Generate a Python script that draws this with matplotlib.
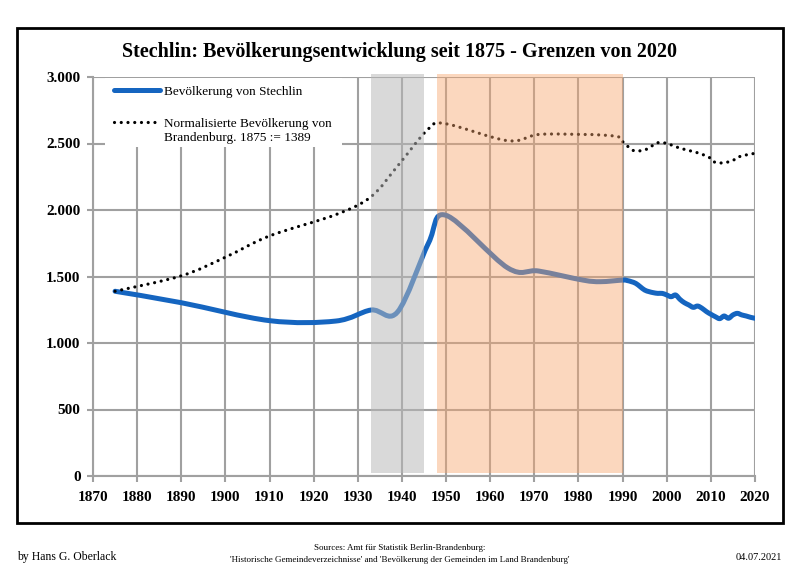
import matplotlib
matplotlib.use("Agg")
import matplotlib.pyplot as plt
from matplotlib.path import Path
from matplotlib.patches import PathPatch, Rectangle
from matplotlib.lines import Line2D

# ---------------- data ----------------
stechlin_years = [1875, 1890, 1910, 1925, 1933, 1939, 1946, 1950, 1964, 1971, 1981, 1985, 1990,
                  1991, 1992, 1993, 1994, 1995, 1996, 1997, 1998, 1999, 2000, 2001, 2002, 2003,
                  2004, 2005, 2006, 2007, 2008, 2009, 2010, 2011, 2012, 2013, 2014, 2015, 2016,
                  2017, 2018, 2019, 2020]
stechlin_pop = [1389, 1303, 1168, 1165, 1248, 1233, 1750, 1960, 1564, 1541, 1473, 1461, 1473,
                1470, 1461, 1448, 1423, 1398, 1386, 1378, 1373, 1373, 1361, 1348, 1361, 1328,
                1303, 1286, 1268, 1278, 1261, 1236, 1216, 1198, 1183, 1203, 1186, 1211, 1223,
                1211, 1203, 1193, 1186]

brandenburg_years = [1875, 1890, 1900, 1910, 1925, 1933, 1939, 1946, 1950, 1964, 1971, 1981, 1985,
                     1989, 1990, 1992, 1993, 1995, 1997, 1998, 2000, 2002, 2004, 2006, 2008, 2010,
                     2011, 2013, 2015, 2016, 2018, 2020]
brandenburg_norm = [1389, 1505, 1645, 1805, 1965, 2100, 2330, 2610, 2648, 2521, 2568, 2568, 2564,
                    2551, 2514, 2456, 2444, 2451, 2489, 2506, 2501, 2476, 2456, 2439, 2419, 2388,
                    2358, 2355, 2373, 2396, 2414, 2426]

shade_gray = (1933, 1945)
shade_orange = (1948, 1990)

x_ticks = list(range(1870, 2021, 10))
x_tick_labels = [str(v) for v in x_ticks]
y_ticks = [0, 500, 1000, 1500, 2000, 2500, 3000]
y_tick_labels = ["0", "500", "1.000", "1.500", "2.000", "2.500", "3.000"]

title = "Stechlin: Bevölkerungsentwicklung seit 1875 - Grenzen von 2020"
label_stechlin = "Bevölkerung von Stechlin"
label_brandenburg = ["Normalisierte Bevölkerung von", "Brandenburg. 1875 := 1389"]

# ---------------- helpers ----------------
def smooth_path(xs, ys):
    n = len(xs)
    verts = [(xs[0], ys[0])]
    codes = [Path.MOVETO]
    for i in range(n - 1):
        p0 = i - 1 if i > 0 else i
        p3 = i + 2 if i + 2 < n else i + 1
        c1 = (xs[i] + (xs[i + 1] - xs[p0]) / 6.0, ys[i] + (ys[i + 1] - ys[p0]) / 6.0)
        c2 = (xs[i + 1] - (xs[p3] - xs[i]) / 6.0, ys[i + 1] - (ys[p3] - ys[i]) / 6.0)
        verts += [c1, c2, (xs[i + 1], ys[i + 1])]
        codes += [Path.CURVE4, Path.CURVE4, Path.CURVE4]
    return Path(verts, codes)

plt.rcParams['font.family'] = ['Liberation Serif', 'DejaVu Serif']

W, H = 800, 566
fig = plt.figure(figsize=(8.0, 5.66), dpi=100)
AX_L, AX_R, AX_T, AX_B = 93, 755, 77, 476
ax = fig.add_axes([AX_L / W, 1 - AX_B / H, (AX_R - AX_L) / W, (AX_B - AX_T) / H])

def axfrac(px, py):
    return ((px - AX_L) / (AX_R - AX_L), (AX_B - py) / (AX_B - AX_T))

blue = "#1565C0"
grid_col = "#A0A0A0"
dots = (0, (0.01, 2.1))

ax.set_xlim(1870, 2020)
ax.set_ylim(0, 3000)
ax.set_xticks(x_ticks)
ax.set_xticklabels(x_tick_labels, fontsize=11, fontweight='bold')
ax.set_yticks(y_ticks)
ax.set_yticklabels(y_tick_labels, fontsize=11, fontweight='bold')
ax.grid(True, color=grid_col, linewidth=1.5, zorder=0)
ax.set_axisbelow(True)
for s in ['top', 'right']:
    ax.spines[s].set_visible(False)
for s in ['left', 'bottom']:
    ax.spines[s].set_color(grid_col)
    ax.spines[s].set_linewidth(1.5)
ax.tick_params(axis='both', direction='out', length=4, width=1.5, color=grid_col)
ax.tick_params(axis='x', pad=7)
ax.tick_params(axis='y', pad=5)

# lines
p1 = PathPatch(smooth_path(stechlin_years, stechlin_pop), fill=False, edgecolor=blue,
               linewidth=3.6, capstyle='round', joinstyle='round', zorder=3)
ax.add_patch(p1)
p2 = PathPatch(smooth_path(brandenburg_years, brandenburg_norm), fill=False, edgecolor='black',
               linewidth=2.3, linestyle=dots, capstyle='round', zorder=3)
ax.add_patch(p2)

# shaded periods (overlay)
ax.fill_between(list(shade_gray), 25, 3025, color=(184 / 255, 184 / 255, 184 / 255), alpha=0.53,
                linewidth=0, zorder=4, clip_on=False)
ax.fill_between(list(shade_orange), 25, 3025, color=(248 / 255, 165 / 255, 109 / 255), alpha=0.44,
                linewidth=0, zorder=4, clip_on=False)

# legend (drawn in axes coordinates)
bx0, by0 = axfrac(105, 147)
bx1, by1 = axfrac(342, 78)
ax.add_patch(Rectangle((bx0, by0), bx1 - bx0, by1 - by0, transform=ax.transAxes,
                       facecolor='white', edgecolor='none', zorder=5))
lx0, ly1 = axfrac(114, 90)
lx1, _ = axfrac(160, 90)
ax.add_line(Line2D([lx0, lx1], [ly1, ly1], transform=ax.transAxes, color=blue, linewidth=3.6,
                   solid_capstyle='round', zorder=6))
tx, _ = axfrac(164, 90)
ax.text(tx, ly1, label_stechlin, transform=ax.transAxes, ha='left', va='center_baseline',
        fontsize=9.5, zorder=6)
_, ly2 = axfrac(114, 122)
ax.add_line(Line2D([lx0, lx1], [ly2, ly2], transform=ax.transAxes, color='black', linewidth=2.3,
                   linestyle=dots, dash_capstyle='round', zorder=6))
ax.text(tx, ly2, label_brandenburg[0], transform=ax.transAxes, ha='left', va='center_baseline',
        fontsize=9.5, zorder=6)
_, ly3 = axfrac(114, 137)
ax.text(tx, ly3, label_brandenburg[1], transform=ax.transAxes, ha='left', va='center_baseline',
        fontsize=9.5, zorder=6)

# title
fig.text(0.5, 1 - 49 / H, title, ha='center', va='center_baseline', fontsize=14.5,
         fontweight='bold')

# frame
fig.patches.append(Rectangle((17 / W, 1 - 523 / H), (783 - 17) / W, (523 - 28) / H,
                             transform=fig.transFigure, fill=False, edgecolor='black', linewidth=2))

# footer
fig.text(17 / W, 1 - 557 / H, "by Hans G. Oberlack", ha='left', va='center', fontsize=8.5)
fig.text(0.5, 1 - 548 / H, "Sources: Amt für Statistik Berlin-Brandenburg:", ha='center',
         va='center', fontsize=6.5)
fig.text(0.5, 1 - 560 / H,
         "'Historische Gemeindeverzeichnisse' and 'Bevölkerung der Gemeinden im Land Brandenburg'",
         ha='center', va='center', fontsize=6.5)
fig.text(782 / W, 1 - 557 / H, "04.07.2021", ha='right', va='center', fontsize=7.5)

fig.savefig("out.png", dpi=100)
